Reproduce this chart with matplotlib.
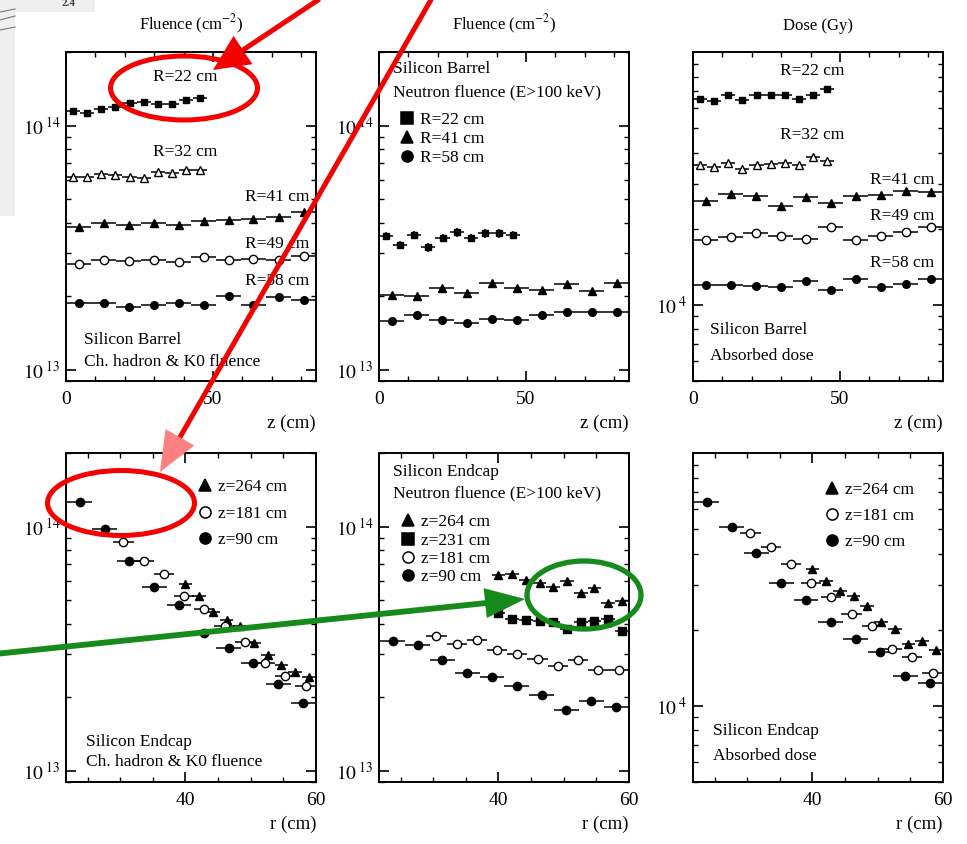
import numpy as np
import matplotlib
matplotlib.use('Agg')
import matplotlib.pyplot as plt
from matplotlib.ticker import FixedLocator, LogLocator, MultipleLocator, FuncFormatter, NullFormatter
from matplotlib.patches import Ellipse, Polygon, Rectangle
from matplotlib.lines import Line2D

plt.rcParams['font.family'] = ['Liberation Serif', 'DejaVu Serif']
plt.rcParams['mathtext.fontset'] = 'stix'

# --- bin centres ---
z_short = [2.4, 7.2, 12.0, 16.8, 21.6, 26.4, 31.2, 36.0, 40.8, 45.6]
z_long = [4.25, 12.75, 21.25, 29.75, 38.25, 46.75, 55.25, 63.75, 72.25, 80.75]
r_z90 = [23.8, 27.6, 31.4, 35.2, 39.0, 42.8, 46.6, 50.4, 54.2, 58.0]
r_z181 = [30.5, 33.6, 36.7, 39.8, 42.9, 46.0, 49.1, 52.2, 55.3, 58.4]
r_z264 = [40.0, 42.1, 44.2, 46.3, 48.4, 50.5, 52.6, 54.7, 56.8, 58.9]

# --- barrel, charged hadron & K0 fluence (cm^-2) ---
bh_r22 = [1.15e14, 1.13e14, 1.17e14, 1.19e14, 1.24e14, 1.25e14, 1.22e14, 1.23e14, 1.27e14, 1.30e14]
bh_r32 = [6.14e13, 6.14e13, 6.34e13, 6.30e13, 6.18e13, 6.10e13, 6.44e13, 6.38e13, 6.55e13, 6.55e13]
bh_r41 = [3.86e13, 3.98e13, 3.93e13, 3.98e13, 3.93e13, 4.08e13, 4.12e13, 4.14e13, 4.24e13, 4.41e13]
bh_r49 = [2.71e13, 2.81e13, 2.78e13, 2.81e13, 2.75e13, 2.90e13, 2.81e13, 2.84e13, 2.81e13, 2.93e13]
bh_r58 = [1.87e13, 1.87e13, 1.81e13, 1.85e13, 1.87e13, 1.85e13, 2.00e13, 1.85e13, 1.98e13, 1.94e13]

# --- barrel, neutron fluence (cm^-2) ---
bn_r22 = [3.54e13, 3.25e13, 3.56e13, 3.17e13, 3.47e13, 3.66e13, 3.47e13, 3.62e13, 3.62e13, 3.56e13]
bn_r41 = [2.03e13, 2.00e13, 2.17e13, 2.07e13, 2.26e13, 2.16e13, 2.12e13, 2.25e13, 2.11e13, 2.26e13]
bn_r58 = [1.59e13, 1.67e13, 1.60e13, 1.55e13, 1.62e13, 1.60e13, 1.67e13, 1.72e13, 1.73e13, 1.73e13]

# --- barrel, absorbed dose (Gy) ---
bd_r22 = [6.49e4, 6.39e4, 6.73e4, 6.43e4, 6.77e4, 6.73e4, 6.73e4, 6.49e4, 6.77e4, 7.16e4]
bd_r32 = [3.57e4, 3.50e4, 3.64e4, 3.45e4, 3.57e4, 3.61e4, 3.63e4, 3.56e4, 3.86e4, 3.72e4]
bd_r41 = [2.58e4, 2.75e4, 2.70e4, 2.47e4, 2.66e4, 2.54e4, 2.69e4, 2.72e4, 2.81e4, 2.79e4]
bd_r49 = [1.81e4, 1.86e4, 1.92e4, 1.88e4, 1.83e4, 2.04e4, 1.81e4, 1.87e4, 1.95e4, 2.04e4]
bd_r58 = [1.20e4, 1.20e4, 1.19e4, 1.18e4, 1.24e4, 1.14e4, 1.27e4, 1.18e4, 1.21e4, 1.27e4]

# --- endcap, charged hadron & K0 fluence (cm^-2) ---
eh_z264 = [5.82e13, 5.22e13, 4.45e13, 4.15e13, 3.90e13, 3.35e13, 2.98e13, 2.71e13, 2.53e13, 2.43e13]
eh_z181 = [8.67e13, 7.23e13, 6.40e13, 5.18e13, 4.59e13, 3.90e13, 3.38e13, 2.77e13, 2.44e13, 2.22e13]
eh_z90 = [1.26e14, 9.75e13, 7.23e13, 5.66e13, 4.79e13, 3.66e13, 3.17e13, 2.77e13, 2.26e13, 1.89e13]

# --- endcap, neutron fluence (cm^-2) ---
en_z264 = [6.32e13, 6.38e13, 6.07e13, 5.89e13, 5.66e13, 6.00e13, 5.36e13, 5.61e13, 4.87e13, 4.95e13]
en_z231 = [4.44e13, 4.18e13, 4.13e13, 4.12e13, 4.05e13, 3.79e13, 4.07e13, 4.12e13, 4.20e13, 3.74e13]
en_z181 = [3.56e13, 3.30e13, 3.42e13, 3.11e13, 3.01e13, 2.86e13, 2.68e13, 2.83e13, 2.58e13, 2.58e13]
en_z90 = [3.40e13, 3.28e13, 2.83e13, 2.51e13, 2.43e13, 2.23e13, 2.05e13, 1.78e13, 1.94e13, 1.83e13]

# --- endcap, absorbed dose (Gy) ---
ed_z264 = [3.48e4, 3.11e4, 2.84e4, 2.72e4, 2.48e4, 2.14e4, 2.01e4, 1.76e4, 1.80e4, 1.66e4]
ed_z181 = [4.82e4, 4.23e4, 3.63e4, 3.07e4, 2.70e4, 2.30e4, 2.07e4, 1.68e4, 1.56e4, 1.35e4]
ed_z90 = [6.38e4, 5.08e4, 4.01e4, 3.07e4, 2.63e4, 2.15e4, 1.84e4, 1.63e4, 1.31e4, 1.23e4]

W, H = 967, 844
fig = plt.figure(figsize=(W / 100, H / 100), dpi=100)

col_left = [66, 379, 693]
row_top = [52, 453]
AW, AH = 250, 329


def make_axes(col, row):
    l = col_left[col] / W
    b = 1 - (row_top[row] + AH) / H
    return fig.add_axes([l, b, AW / W, AH / H])


def pow_fmt(v, pos):
    return r'$10^{\;%d}$' % int(round(np.log10(v)))


def setup(ax, kind, dose):
    ax.set_yscale('log')
    if kind == 'z':
        ax.set_xlim(0, 85)
        ax.xaxis.set_major_locator(FixedLocator([0, 50]))
        ax.xaxis.set_minor_locator(MultipleLocator(10))
        ax.text(1.0, -0.128, 'z (cm)', transform=ax.transAxes, ha='right', va='center', fontsize=13.5)
    else:
        ax.set_xlim(21.7, 60)
        ax.xaxis.set_major_locator(FixedLocator([40, 60]))
        ax.xaxis.set_minor_locator(MultipleLocator(5))
        ax.text(1.0, -0.128, 'r (cm)', transform=ax.transAxes, ha='right', va='center', fontsize=13.5)
    if dose:
        ax.set_ylim(5e3, 1e5)
        ax.yaxis.set_major_locator(FixedLocator([1e4]))
    else:
        ax.set_ylim(9e12, 2e14)
        ax.yaxis.set_major_locator(FixedLocator([1e13, 1e14]))
    ax.yaxis.set_minor_locator(LogLocator(base=10, subs=np.arange(2, 10)))
    ax.yaxis.set_minor_formatter(NullFormatter())
    ax.yaxis.set_major_formatter(FuncFormatter(pow_fmt))
    ax.tick_params(which='both', direction='in', top=True, right=True, labelsize=14)
    ax.tick_params(which='major', length=7, width=1.2)
    ax.tick_params(which='minor', length=3.8, width=1.0)
    ax.tick_params(axis='x', pad=7)
    ax.tick_params(axis='y', pad=4)
    for s in ax.spines.values():
        s.set_linewidth(1.4)


def series(ax, x, y, xerr, marker, filled, ms, yerr=None):
    ax.errorbar(x, y, xerr=xerr, yerr=yerr, fmt=marker, color='black',
                mfc='black' if filled else 'white', mec='black', ms=ms, mew=1.0,
                elinewidth=1.1, capsize=0, clip_on=False)


def label(ax, x, y, s, size=12.5):
    ax.text(x, y, s, transform=ax.transAxes, ha='left', va='center', fontsize=size)


def legend(ax, entries, anchor, spacing):
    handles = [Line2D([], [], ls='', marker=m, ms=8, color='black', mfc='black' if f else 'white', mew=1.1)
               for m, f, _ in entries]
    ax.legend(handles, [t for _, _, t in entries], loc='upper left', bbox_to_anchor=anchor,
              frameon=False, fontsize=12.5, handlelength=0.9, handletextpad=0.3,
              labelspacing=spacing, borderpad=0, borderaxespad=0)


# ---- top left: barrel charged hadron fluence ----
ax = make_axes(0, 0)
setup(ax, 'z', False)
ax.set_title('Fluence (cm$^{-2}$)', fontsize=12, pad=16)
series(ax, z_short, bh_r22, 2.4, 's', True, 5)
series(ax, z_short, bh_r32, 2.4, '^', False, 6)
series(ax, z_long, bh_r41, 4.25, '^', True, 5.5)
series(ax, z_long, bh_r49, 4.25, 'o', False, 6)
series(ax, z_long, bh_r58, 4.25, 'o', True, 5.5)
label(ax, 0.348, 0.924, 'R=22 cm')
label(ax, 0.348, 0.695, 'R=32 cm')
label(ax, 0.716, 0.558, 'R=41 cm')
label(ax, 0.716, 0.415, 'R=49 cm')
label(ax, 0.716, 0.305, 'R=58 cm')
label(ax, 0.072, 0.125, 'Silicon Barrel')
label(ax, 0.072, 0.058, 'Ch. hadron & K0 fluence')

# ---- top middle: barrel neutron fluence ----
ax = make_axes(1, 0)
setup(ax, 'z', False)
ax.set_title('Fluence (cm$^{-2}$)', fontsize=12, pad=16)
series(ax, z_short, bn_r22, 2.4, 's', True, 5, yerr=np.array(bn_r22) * 0.04)
series(ax, z_long, bn_r41, 4.25, '^', True, 5.5, yerr=np.array(bn_r41) * 0.02)
series(ax, z_long, bn_r58, 4.25, 'o', True, 5.5)
label(ax, 0.056, 0.948, 'Silicon Barrel')
label(ax, 0.056, 0.878, 'Neutron fluence (E>100 keV)')
legend(ax, [('s', True, 'R=22 cm'), ('^', True, 'R=41 cm'), ('o', True, 'R=58 cm')],
       (0.08, 0.817), 0.15)

# ---- top right: barrel dose ----
ax = make_axes(2, 0)
setup(ax, 'z', True)
ax.set_title('Dose (Gy)', fontsize=12, pad=16)
series(ax, z_short, bd_r22, 2.4, 's', True, 5)
series(ax, z_short, bd_r32, 2.4, '^', False, 6)
series(ax, z_long, bd_r41, 4.25, '^', True, 5.5)
series(ax, z_long, bd_r49, 4.25, 'o', False, 6)
series(ax, z_long, bd_r58, 4.25, 'o', True, 5.5)
label(ax, 0.348, 0.942, 'R=22 cm')
label(ax, 0.348, 0.747, 'R=32 cm')
label(ax, 0.708, 0.610, 'R=41 cm')
label(ax, 0.708, 0.503, 'R=49 cm')
label(ax, 0.708, 0.360, 'R=58 cm')
label(ax, 0.068, 0.155, 'Silicon Barrel')
label(ax, 0.068, 0.076, 'Absorbed dose')

# ---- bottom left: endcap charged hadron fluence ----
ax = make_axes(0, 1)
setup(ax, 'r', False)
series(ax, r_z264, eh_z264, 1.05, '^', True, 5.5)
series(ax, r_z181, eh_z181, 1.55, 'o', False, 6)
series(ax, r_z90, eh_z90, 1.9, 'o', True, 6)
legend(ax, [('^', True, 'z=264 cm'), ('o', False, 'z=181 cm'), ('o', True, 'z=90 cm')],
       (0.524, 0.92), 0.58)
label(ax, 0.08, 0.122, 'Silicon Endcap')
label(ax, 0.08, 0.061, 'Ch. hadron & K0 fluence')

# ---- bottom middle: endcap neutron fluence ----
ax = make_axes(1, 1)
setup(ax, 'r', False)
series(ax, r_z264, en_z264, 1.05, '^', True, 5.5)
series(ax, r_z264, en_z231, 1.05, 's', True, 5.5)
series(ax, r_z181, en_z181, 1.55, 'o', False, 6)
series(ax, r_z90, en_z90, 1.9, 'o', True, 6, yerr=np.array(en_z90) * 0.03)
label(ax, 0.056, 0.942, 'Silicon Endcap')
label(ax, 0.056, 0.878, 'Neutron fluence (E>100 keV)')
legend(ax, [('^', True, 'z=264 cm'), ('s', True, 'z=231 cm'), ('o', False, 'z=181 cm'), ('o', True, 'z=90 cm')],
       (0.084, 0.814), 0.12)

# ---- bottom right: endcap dose ----
ax = make_axes(2, 1)
setup(ax, 'r', True)
series(ax, r_z264, ed_z264, 1.05, '^', True, 5.5)
series(ax, r_z181, ed_z181, 1.55, 'o', False, 6)
series(ax, r_z90, ed_z90, 1.9, 'o', True, 6)
legend(ax, [('^', True, 'z=264 cm'), ('o', False, 'z=181 cm'), ('o', True, 'z=90 cm')],
       (0.524, 0.913), 0.58)
label(ax, 0.08, 0.155, 'Silicon Endcap')
label(ax, 0.08, 0.079, 'Absorbed dose')

# ---- scanned page fragment, top left corner ----
fig.add_artist(Rectangle((0, 1 - 216 / H), 15 / W, 216 / H, transform=fig.transFigure,
                         color='#efefef', lw=0, zorder=-5))
fig.add_artist(Rectangle((0, 1 - 12 / H), 95 / W, 12 / H, transform=fig.transFigure,
                         color='#efefef', lw=0, zorder=-5))
fig.text(62 / W, 1 - 4 / H, '2.4', fontsize=8, fontweight='bold', color='#444444', va='center')
for y0, y1 in [(12, 9), (20, 16), (30, 27)]:
    fig.add_artist(Line2D([0, 15 / W], [1 - y0 / H, 1 - y1 / H], transform=fig.transFigure,
                          color='#777777', lw=0.8))


# ---- highlight annotations (pixel coordinates of the picture) ----
def px(x, y):
    return (x / W, 1 - y / H)


def ellipse(cx, cy, w, h, color, lw):
    fig.add_artist(Ellipse(px(cx, cy), w / W, h / H, transform=fig.transFigure,
                           fill=False, ec=color, lw=lw, zorder=10))


def arrow(start, tip, head_len, head_w, line_color, head_color, lw):
    sx, sy = start
    tx, ty = tip
    d = np.hypot(tx - sx, ty - sy)
    ux, uy = (tx - sx) / d, (ty - sy) / d
    bx, by = tx - ux * head_len, ty - uy * head_len
    a, b = px(sx, sy), px(bx + ux * 3, by + uy * 3)
    fig.add_artist(Line2D([a[0], b[0]], [a[1], b[1]], transform=fig.transFigure,
                          color=line_color, lw=lw, solid_capstyle='butt', zorder=10))
    nx, ny = -uy, ux
    pts = [px(tx, ty), px(bx + nx * head_w / 2, by + ny * head_w / 2),
           px(bx - nx * head_w / 2, by - ny * head_w / 2)]
    fig.add_artist(Polygon(pts, closed=True, transform=fig.transFigure,
                           fc=head_color, ec='none', zorder=11))


red = '#f40000'
green = '#178a1c'
ellipse(184, 88, 147, 64, red, 3.6)
ellipse(121, 503, 147, 65, red, 3.6)
ellipse(584, 595, 114, 68, green, 3.8)
arrow((321, -2), (213, 70), 36, 34, red, red, 3.6)
arrow((432, -2), (160, 472), 40, 33, red, '#ff8080', 3.6)
arrow((-5, 654), (525, 599), 40, 30, green, green, 4.2)

fig.savefig('out.png', dpi=100)
